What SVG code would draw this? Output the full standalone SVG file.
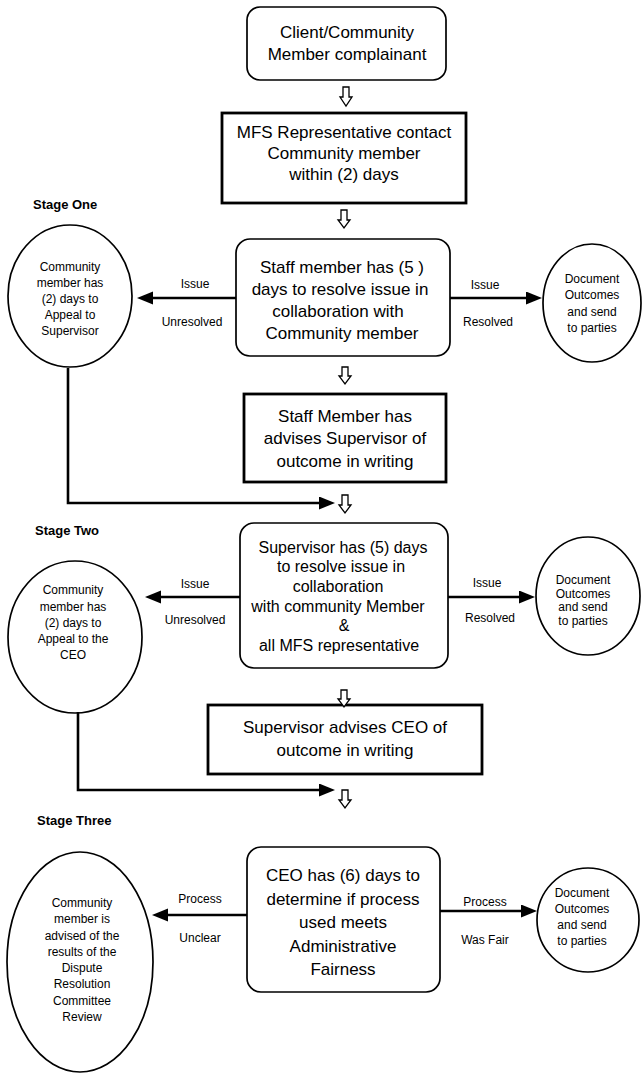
<svg xmlns="http://www.w3.org/2000/svg" width="642" height="1075" viewBox="0 0 642 1075">
<defs>
<marker id="ah" markerUnits="userSpaceOnUse" markerWidth="17" markerHeight="14" refX="1" refY="6.5" orient="auto">
<path d="M0,0 L16,6.5 L0,13 Z" fill="#000"/>
</marker>
<style>
.rbox{fill:#fff;stroke:#000;stroke-width:1.7}
.sbox{fill:#fff;stroke:#000;stroke-width:2.8}
.ell{fill:#fff;stroke:#000;stroke-width:1.7}
.ha{fill:#fff;stroke:#000;stroke-width:1.3;stroke-linejoin:miter}
.con{fill:none;stroke:#000;stroke-width:2.6}
text{font-family:"Liberation Sans",Arial,sans-serif;fill:#000;text-anchor:middle}
.t17{font-size:17px}
.t16{font-size:16px}
.t12{font-size:12px}
.lab{font-size:12px}
.stage{font-size:13px;font-weight:bold;text-anchor:start}
</style>
</defs>
<rect width="642" height="1075" fill="#fff"/>

<g id="stage-one"><text class="stage" x="33" y="209">Stage One</text></g>
<g id="stage-two"><text class="stage" x="35" y="535">Stage Two</text></g>
<g id="stage-three"><text class="stage" x="37" y="825">Stage Three</text></g>

<g id="n1">
<rect class="rbox" x="247" y="7" width="199" height="73" rx="13"/>
<text class="t17" x="347" y="38">Client/Community</text>
<text class="t17" x="347" y="60">Member complainant</text>
</g>
<g id="n2">
<rect class="sbox" x="222" y="113" width="244" height="90"/>
<text class="t17" x="344" y="138">MFS Representative contact</text>
<text class="t17" x="344" y="159">Community member</text>
<text class="t17" x="344" y="180">within (2) days</text>
</g>
<g id="n3">
<rect class="rbox" x="236" y="239" width="214" height="117" rx="14"/>
<text class="t17" x="342" y="273">Staff member has (5 )</text>
<text class="t17" x="340" y="295">days to resolve issue in</text>
<text class="t17" x="338" y="317">collaboration with</text>
<text class="t17" x="342" y="339">Community member</text>
</g>
<g id="n3-left">
<ellipse class="ell" cx="70" cy="296" rx="62" ry="71"/>
<text class="t12" x="70" y="271">Community</text>
<text class="t12" x="70" y="287">member has</text>
<text class="t12" x="70" y="303">(2) days to</text>
<text class="t12" x="70" y="319">Appeal to</text>
<text class="t12" x="70" y="335">Supervisor</text>
</g>
<g id="n3-right">
<ellipse class="ell" cx="592" cy="303" rx="49" ry="59"/>
<text class="t12" x="592" y="283">Document</text>
<text class="t12" x="592" y="299">Outcomes</text>
<text class="t12" x="592" y="316">and send</text>
<text class="t12" x="592" y="332">to parties</text>
</g>
<g id="n4">
<rect class="sbox" x="244" y="394" width="202" height="88"/>
<text class="t17" x="345" y="422">Staff Member has</text>
<text class="t17" x="345" y="444">advises Supervisor of</text>
<text class="t17" x="345" y="467">outcome in writing</text>
</g>
<g id="n5">
<rect class="rbox" x="240" y="523" width="208" height="145" rx="14"/>
<text class="t16" x="343" y="553">Supervisor has (5) days</text>
<text class="t16" x="341" y="572">to resolve issue in</text>
<text class="t16" x="338" y="592">collaboration</text>
<text class="t16" x="338" y="612">with community Member</text>
<text class="t16" x="344" y="631">&amp;</text>
<text class="t16" x="339" y="651">all MFS representative</text>
</g>
<g id="n5-left">
<ellipse class="ell" cx="75" cy="637" rx="67" ry="76"/>
<text class="t12" x="73" y="594">Community</text>
<text class="t12" x="73" y="611">member has</text>
<text class="t12" x="73" y="627">(2) days to</text>
<text class="t12" x="73" y="643">Appeal to the</text>
<text class="t12" x="73" y="659">CEO</text>
</g>
<g id="n5-right">
<ellipse class="ell" cx="588" cy="596" rx="52" ry="59"/>
<text class="t12" x="583" y="584">Document</text>
<text class="t12" x="583" y="598">Outcomes</text>
<text class="t12" x="583" y="611">and send</text>
<text class="t12" x="583" y="625">to parties</text>
</g>
<g id="n6">
<rect class="sbox" x="208" y="705" width="274" height="69"/>
<text class="t17" x="345" y="733">Supervisor advises CEO of</text>
<text class="t17" x="345" y="756">outcome in writing</text>
</g>
<g id="n7">
<rect class="rbox" x="247" y="847" width="193" height="145" rx="14"/>
<text class="t17" x="343" y="881">CEO has (6) days to</text>
<text class="t17" x="343" y="905">determine if process</text>
<text class="t17" x="343" y="928">used meets</text>
<text class="t17" x="343" y="952">Administrative</text>
<text class="t17" x="343" y="975">Fairness</text>
</g>
<g id="n7-left">
<ellipse class="ell" cx="80" cy="962" rx="73" ry="110"/>
<text class="t12" x="82" y="907">Community</text>
<text class="t12" x="82" y="923">member  is</text>
<text class="t12" x="82" y="940">advised of the</text>
<text class="t12" x="82" y="956">results of the</text>
<text class="t12" x="82" y="972">Dispute</text>
<text class="t12" x="82" y="988">Resolution</text>
<text class="t12" x="82" y="1005">Committee</text>
<text class="t12" x="82" y="1021">Review</text>
</g>
<g id="n7-right">
<ellipse class="ell" cx="588" cy="920" rx="51" ry="52"/>
<text class="t12" x="582" y="897">Document</text>
<text class="t12" x="582" y="913">Outcomes</text>
<text class="t12" x="582" y="929">and send</text>
<text class="t12" x="582" y="945">to parties</text>
</g>

<g id="connectors">
<path class="ha" d="M343,87 H349 V97 H352 L346,106 L340,97 H343 Z"/>
<path class="ha" d="M341,210 H347 V220 H350 L344,228 L338,220 H341 Z"/>
<path class="ha" d="M342,367 H348 V376 H351 L345,384 L339,376 H342 Z"/>
<path class="ha" d="M342,495 H348 V505 H351 L345,513 L339,505 H342 Z"/>
<path class="ha" d="M341,690 H347 V699 H350 L344,707 L338,699 H341 Z"/>
<path class="ha" d="M342,790 H348 V800 H351 L345,808 L339,800 H342 Z"/>

<line class="con" x1="236" y1="298" x2="152" y2="298" marker-end="url(#ah)"/>
<line class="con" x1="450" y1="298" x2="527" y2="298" marker-end="url(#ah)"/>
<line class="con" x1="240" y1="597" x2="160" y2="597" marker-end="url(#ah)"/>
<line class="con" x1="448" y1="597" x2="520" y2="597" marker-end="url(#ah)"/>
<line class="con" x1="247" y1="915" x2="167" y2="915" marker-end="url(#ah)"/>
<line class="con" x1="440" y1="911" x2="522" y2="911" marker-end="url(#ah)"/>
<path class="con" d="M68,368 V503 H320" marker-end="url(#ah)"/>
<path class="con" d="M78,712 V790 H320" marker-end="url(#ah)"/>

<text class="lab" x="195" y="288">Issue</text>
<text class="lab" x="192" y="326">Unresolved</text>
<text class="lab" x="485" y="289">Issue</text>
<text class="lab" x="488" y="326">Resolved</text>
<text class="lab" x="195" y="588">Issue</text>
<text class="lab" x="195" y="624">Unresolved</text>
<text class="lab" x="487" y="587">Issue</text>
<text class="lab" x="490" y="622">Resolved</text>
<text class="lab" x="200" y="903">Process</text>
<text class="lab" x="200" y="942">Unclear</text>
<text class="lab" x="485" y="906">Process</text>
<text class="lab" x="485" y="944">Was Fair</text>
</g>
</svg>
